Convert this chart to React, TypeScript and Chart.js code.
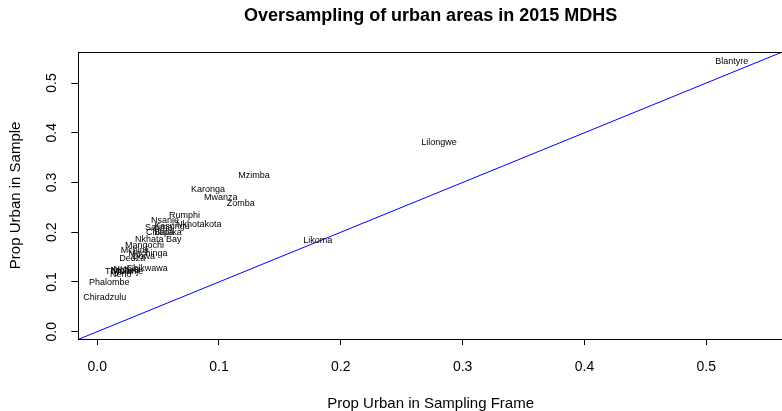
import { useEffect, useRef } from "react";
import { Chart, registerables } from "chart.js";

Chart.register(...registerables);

// District-level share of urban clusters: sampling frame vs. realised sample
const districts = [
  "Balaka", "Blantyre", "Chikwawa", "Chiradzulu", "Chitipa", "Dedza", "Dowa",
  "Karonga", "Kasungu", "Likoma", "Lilongwe", "Machinga", "Mangochi", "Mchinji",
  "Mulanje", "Mwanza", "Mzimba", "Neno", "Nkhata Bay", "Nkhotakota", "Nsanje",
  "Ntcheu", "Ntchisi", "Phalombe", "Rumphi", "Salima", "Thyolo", "Zomba",
];
const propFrame = [
  0.0581, 0.521, 0.0411, 0.0062, 0.0516, 0.0288, 0.038,
  0.091, 0.0614, 0.181, 0.2806, 0.0418, 0.0388, 0.0308,
  0.0249, 0.1015, 0.1287, 0.0194, 0.0502, 0.0834, 0.0557,
  0.0228, 0.0245, 0.0099, 0.0717, 0.0506, 0.0175, 0.1178,
];
const propSample = [
  0.1992, 0.543, 0.1275, 0.0684, 0.1992, 0.1477, 0.151,
  0.2865, 0.2113, 0.1825, 0.3797, 0.158, 0.173, 0.163,
  0.122, 0.270, 0.3133, 0.114, 0.186, 0.2147, 0.2234,
  0.124, 0.126, 0.0994, 0.2328, 0.210, 0.1207, 0.2583,
];

const tickValues = [0, 0.1, 0.2, 0.3, 0.4, 0.5];
const tickLabels = ["0.0", "0.1", "0.2", "0.3", "0.4", "0.5"];
const axisMin = { x: -0.0155, y: -0.0147 };
const axisMax = { x: 0.563, y: 0.563 };
// y = x reference line end points
const identityEnds = [-0.1, 1];

const titleText = "Oversampling of urban areas in 2015 MDHS";
const xTitle = "Prop Urban in Sampling Frame";
const yTitle = "Prop Urban in Sample";

const FONT = "'Liberation Sans', Arial, Helvetica, sans-serif";

const overlay = {
  id: "overlay",
  afterDatasetsDraw(chart: any) {
    const { ctx, chartArea: a, scales } = chart;
    ctx.save();

    // plot frame
    ctx.strokeStyle = "#000";
    ctx.lineWidth = 1;
    ctx.strokeRect(
      Math.round(a.left) + 0.5,
      Math.round(a.top) + 0.5,
      Math.round(a.right - a.left),
      Math.round(a.bottom - a.top)
    );

    // district names at their points
    const meta = chart.getDatasetMeta(1);
    ctx.fillStyle = "#000";
    ctx.font = `9px ${FONT}`;
    ctx.textAlign = "center";
    ctx.textBaseline = "middle";
    meta.data.forEach((pt: any, i: number) => {
      ctx.fillText(districts[i], pt.x, pt.y);
    });

    // vertical tick labels on the y axis
    ctx.font = `14px ${FONT}`;
    tickValues.forEach((v, i) => {
      const y = scales.y.getPixelForValue(v);
      ctx.save();
      ctx.translate(52, y);
      ctx.rotate(-Math.PI / 2);
      ctx.fillText(tickLabels[i], 0, 0);
      ctx.restore();
    });

    // main title, centred over the plot region
    ctx.font = `bold 18px ${FONT}`;
    ctx.fillText(titleText, (a.left + a.right) / 2, 16);

    ctx.restore();
  },
};

export default function App() {
  const canvasRef = useRef<HTMLCanvasElement | null>(null);

  useEffect(() => {
    const canvas = canvasRef.current;
    if (!canvas) return;

    const chart = new Chart(canvas, {
      type: "scatter",
      data: {
        datasets: [
          {
            data: identityEnds.map((v) => ({ x: v, y: v })),
            showLine: true,
            borderColor: "#0000FF",
            borderWidth: 1,
            pointRadius: 0,
            pointHoverRadius: 0,
          },
          {
            data: propFrame.map((x, i) => ({ x, y: propSample[i] })),
            pointRadius: 0,
            pointHoverRadius: 0,
          },
        ],
      },
      options: {
        responsive: false,
        animation: false,
        devicePixelRatio: 1,
        events: [],
        layout: { padding: { top: 51.7, right: 3, left: 0, bottom: 0 } },
        plugins: {
          legend: { display: false },
          tooltip: { enabled: false },
          title: { display: false },
        },
        scales: {
          x: {
            type: "linear",
            min: axisMin.x,
            max: axisMax.x,
            afterBuildTicks: (s: any) => {
              s.ticks = tickValues.map((value) => ({ value }));
            },
            afterFit: (s: any) => {
              s.height = 72;
            },
            border: { display: false },
            grid: {
              drawOnChartArea: false,
              drawTicks: true,
              tickLength: 6,
              color: "#000",
            },
            ticks: {
              color: "#000",
              font: { family: FONT, size: 14 },
              padding: 14,
              maxRotation: 0,
              autoSkip: false,
              callback: (_v: any, i: number) => tickLabels[i],
            },
            title: {
              display: true,
              text: xTitle,
              color: "#000",
              font: { family: FONT, size: 15, lineHeight: 1 },
              padding: { top: 0, bottom: 0 },
            },
          },
          y: {
            type: "linear",
            min: axisMin.y,
            max: axisMax.y,
            afterBuildTicks: (s: any) => {
              s.ticks = tickValues.map((value) => ({ value }));
            },
            afterFit: (s: any) => {
              s.width = 78.3;
            },
            border: { display: false },
            grid: {
              drawOnChartArea: false,
              drawTicks: true,
              tickLength: 7,
              color: "#000",
            },
            ticks: { display: false },
            title: {
              display: true,
              text: yTitle,
              color: "#000",
              font: { family: FONT, size: 15, lineHeight: 1 },
              padding: { top: 8.5, bottom: 0 },
            },
          },
        },
      },
      plugins: [overlay],
    });

    return () => chart.destroy();
  }, []);

  return (
    <div
      style={{
        position: "fixed",
        left: 0,
        top: 0,
        width: 782,
        height: 411,
        overflow: "hidden",
        background: "#fff",
      }}
    >
      <canvas ref={canvasRef} width={786} height={411} style={{ display: "block" }} />
    </div>
  );
}
